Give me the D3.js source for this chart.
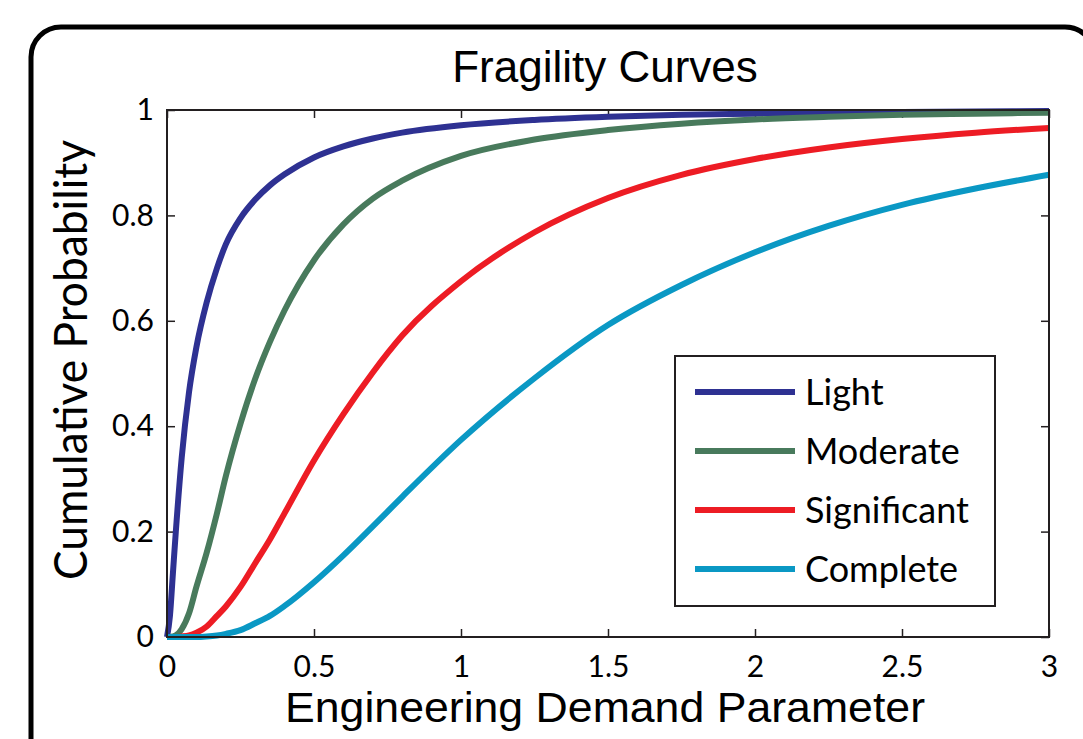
<!DOCTYPE html>
<html>
<head>
<meta charset="utf-8">
<script src="https://cdn.jsdelivr.net/npm/d3@7"></script>
<style>
	html, body { margin: 0; padding: 0; background: #fff; }
	svg { display: block; }
	.tick text { font-family: Lato, "Open Sans", sans-serif; font-size: 30px; fill: #000; }
	.axis path { display: none; }
	.axis line { stroke: #231f20; stroke-width: 1.5; }
</style>
</head>
<body>
<svg id="chart" width="1083" height="739"></svg>
<script>
// engineering demand parameter values where the curves were read
var edp = [0, 0.01, 0.02, 0.03, 0.05, 0.075, 0.1, 0.135, 0.17, 0.2, 0.25, 0.3, 0.35, 0.4,
	0.5, 0.6, 0.7, 0.8, 1.0, 1.25, 1.5, 1.75, 2.0, 2.25, 2.5, 2.75, 3.0];

var lightP = [0, 0.04, 0.12, 0.2, 0.34, 0.465, 0.55, 0.635, 0.7, 0.745, 0.795, 0.83, 0.857, 0.878,
	0.91, 0.931, 0.946, 0.957, 0.971, 0.981, 0.987, 0.991, 0.993, 0.995, 0.996, 0.997, 0.998];
var moderateP = [0, 0, 0.001, 0.003, 0.015, 0.045, 0.095, 0.16, 0.235, 0.305, 0.405, 0.49, 0.56, 0.62,
	0.715, 0.783, 0.832, 0.866, 0.913, 0.944, 0.962, 0.974, 0.982, 0.987, 0.991, 0.993, 0.995];
var significantP = [0, 0, 0, 0, 0.001, 0.003, 0.008, 0.02, 0.04, 0.058, 0.095, 0.14, 0.185, 0.235,
	0.335, 0.423, 0.502, 0.572, 0.675, 0.768, 0.833, 0.877, 0.907, 0.929, 0.945, 0.957, 0.966];
var completeP = [0, 0, 0, 0, 0, 0, 0, 0.001, 0.003, 0.006, 0.013, 0.026, 0.04, 0.059,
	0.104, 0.155, 0.21, 0.266, 0.374, 0.491, 0.592, 0.668, 0.73, 0.78, 0.82, 0.851, 0.877];

var seriesNames = ["Light", "Moderate", "Significant", "Complete"];
var seriesColors = ["#2e3192", "#487a5c", "#ed1c24", "#0a98c4"];
var xTicks = [0, 0.5, 1, 1.5, 2, 2.5, 3];
var yTicks = [0, 0.2, 0.4, 0.6, 0.8, 1];

var allP = [lightP, moderateP, significantP, completeP];

var margin = {top: 110, right: 34, bottom: 102, left: 167},
	width = 1083 - margin.left - margin.right,
	height = 739 - margin.top - margin.bottom;

var svg = d3.select("#chart");

// outer rounded frame (runs off the right and bottom of the picture)
svg.append("rect")
	.attr("x", 31).attr("y", 27)
	.attr("width", 1064).attr("height", 760)
	.attr("rx", 30).attr("ry", 30)
	.attr("fill", "none")
	.attr("stroke", "#000")
	.attr("stroke-width", 5);

var x = d3.scaleLinear().domain([0, 3]).range([0, width]),
	y = d3.scaleLinear().domain([0, 1]).range([height, 0]);

var g = svg.append("g")
	.attr("transform", "translate(" + margin.left + "," + margin.top + ")");

var fmt = function(d) { return d3.format("")(d); };

g.append("g")
	.attr("class", "axis axis--x")
	.attr("transform", "translate(0," + height + ")")
	.call(d3.axisBottom(x).tickValues(xTicks).tickFormat(fmt).tickSize(-8).tickPadding(19));

g.append("g")
	.attr("class", "axis axis--x2")
	.call(d3.axisTop(x).tickValues(xTicks).tickFormat("").tickSize(-8));

g.append("g")
	.attr("class", "axis axis--y")
	.call(d3.axisLeft(y).tickValues(yTicks).tickFormat(fmt).tickSize(-8).tickPadding(13));

g.append("g")
	.attr("class", "axis axis--y2")
	.attr("transform", "translate(" + width + ",0)")
	.call(d3.axisRight(y).tickValues(yTicks).tickFormat("").tickSize(-8));

var line = d3.line()
	.x(function(d) { return x(d[0]); })
	.y(function(d) { return y(d[1]); })
	.curve(d3.curveMonotoneX);

allP.forEach(function(p, i) {
	g.append("path")
		.datum(edp.map(function(e, j) { return [e, p[j]]; }))
		.attr("fill", "none")
		.attr("stroke", seriesColors[i])
		.attr("stroke-width", 6)
		.attr("stroke-linejoin", "round")
		.attr("d", line);
});

// plot box
g.append("rect")
	.attr("width", width).attr("height", height)
	.attr("fill", "none")
	.attr("stroke", "#231f20")
	.attr("stroke-width", 2);

// legend
var legend = g.append("g")
	.attr("transform", "translate(" + (675 - margin.left) + "," + (356 - margin.top) + ")");

legend.append("rect")
	.attr("width", 320).attr("height", 250)
	.attr("fill", "#fff")
	.attr("stroke", "#231f20")
	.attr("stroke-width", 2);

seriesNames.forEach(function(name, i) {
	var ly = 36 + i * 59;
	legend.append("line")
		.attr("x1", 20).attr("x2", 120)
		.attr("y1", ly).attr("y2", ly)
		.attr("stroke", seriesColors[i])
		.attr("stroke-width", 6);
	legend.append("text")
		.attr("x", 130).attr("y", ly + 13)
		.attr("font-family", "Lato, 'Open Sans', sans-serif")
		.attr("font-size", 36)
		.text(name);
});

// title and axis labels
svg.append("text")
	.attr("x", 605).attr("y", 82)
	.attr("text-anchor", "middle")
	.attr("font-family", "'Liberation Sans', Arial, sans-serif")
	.attr("font-size", 44)
	.text("Fragility Curves");

svg.append("text")
	.attr("x", 605).attr("y", 722)
	.attr("text-anchor", "middle")
	.attr("font-family", "'Liberation Sans', Arial, sans-serif")
	.attr("font-size", 42)
	.attr("textLength", 640)
	.attr("lengthAdjust", "spacingAndGlyphs")
	.text("Engineering Demand Parameter");

svg.append("text")
	.attr("transform", "translate(87,360) rotate(-90)")
	.attr("text-anchor", "middle")
	.attr("font-family", "Lato, 'Open Sans', sans-serif")
	.attr("font-size", 46)
	.attr("textLength", 440)
	.attr("lengthAdjust", "spacingAndGlyphs")
	.text("Cumulative Probability");
</script>
</body>
</html>
